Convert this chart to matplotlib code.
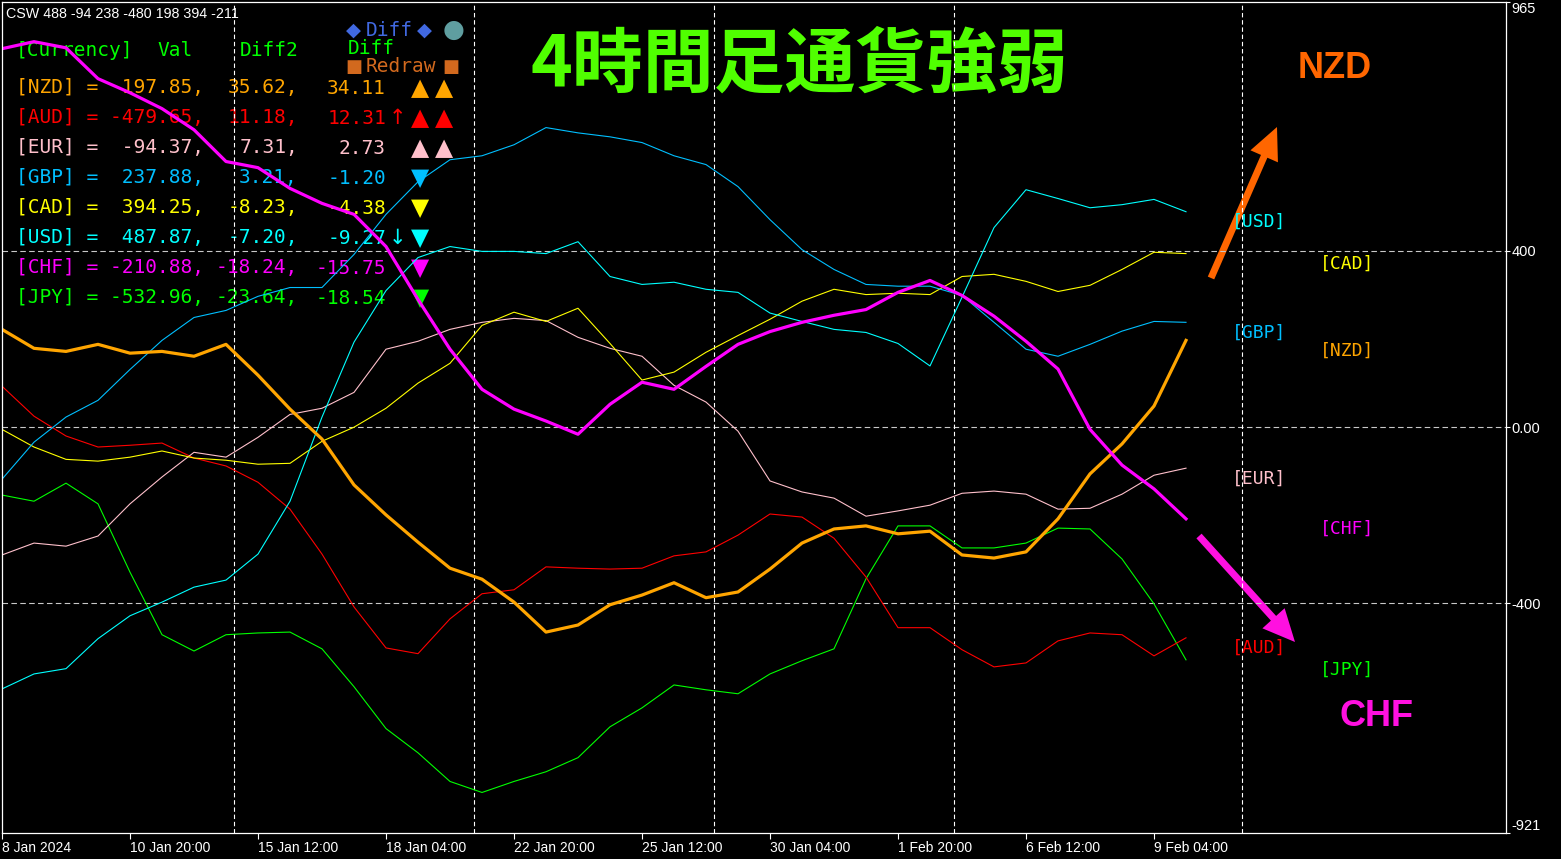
import matplotlib.pyplot as plt
import numpy as np

# 4H bar index of each sample (every 4th bar)
bars = np.arange(0, 149, 4)

nzd = [222, 179, 172, 188, 168, 172, 161, 188, 118, 41, -27, -131, -199, -261, -320, -345, -397, -465, -449, -403,
       -381, -353, -387, -374, -322, -263, -231, -224, -242, -236, -290, -297, -283, -208, -106, -38, 48, 197]
aud = [93, 25, -20, -45, -41, -36, -70, -88, -125, -186, -288, -408, -501, -514, -435, -378, -369, -317, -320, -322,
       -320, -292, -283, -245, -197, -204, -252, -340, -455, -455, -505, -544, -535, -485, -467, -471, -519, -478]
eur = [-290, -263, -270, -247, -174, -113, -57, -68, -23, 29, 43, 79, 177, 195, 222, 238, 247, 242, 204, 179,
       161, 95, 57, -9, -122, -147, -161, -202, -190, -177, -150, -145, -152, -186, -184, -152, -109, -93]
gbp = [-118, -34, 23, 61, 131, 197, 249, 265, 297, 317, 317, 392, 483, 557, 607, 616, 641, 680, 668, 659,
       646, 616, 596, 546, 471, 403, 358, 324, 320, 320, 299, 238, 177, 161, 188, 218, 240, 238]
cad = [-5, -45, -73, -77, -68, -54, -70, -75, -84, -82, -32, 0, 43, 100, 145, 231, 261, 240, 270, 190,
       107, 125, 170, 208, 245, 286, 313, 301, 304, 301, 342, 347, 331, 308, 322, 358, 397, 394]
usd = [-594, -560, -548, -480, -428, -397, -363, -347, -288, -168, 23, 193, 310, 385, 410, 399, 399, 394, 421, 342,
       324, 329, 313, 306, 259, 240, 222, 215, 190, 139, 295, 453, 539, 519, 498, 505, 517, 489]
chf = [859, 875, 861, 791, 759, 723, 675, 603, 589, 542, 508, 483, 410, 290, 177, 86, 41, 14, -16, 52,
       102, 86, 138, 188, 217, 238, 254, 267, 306, 333, 299, 252, 195, 132, -5, -86, -140, -208]
jpy = [-154, -168, -127, -174, -329, -471, -508, -471, -467, -465, -503, -589, -684, -739, -804, -829, -804, -782, -750, -680,
       -637, -585, -596, -605, -560, -530, -503, -344, -224, -224, -274, -274, -263, -229, -231, -299, -401, -528]

tick_bars = [0, 16, 32, 48, 64, 80, 96, 112, 128, 144]
tick_labels = ['8 Jan 2024', '10 Jan 20:00', '15 Jan 12:00', '18 Jan 04:00', '22 Jan 20:00',
               '25 Jan 12:00', '30 Jan 04:00', '1 Feb 20:00', '6 Feb 12:00', '9 Feb 04:00']
vgrid_bars = [29, 59, 89, 119, 155]
yticks = [-921, -400, 0, 400, 965]
ytick_labels = ['-921', '-400', '0.00', '400', '965']

# table in the top-left corner
currencies = ['NZD', 'AUD', 'EUR', 'GBP', 'CAD', 'USD', 'CHF', 'JPY']
vals = [197.85, -479.65, -94.37, 237.88, 394.25, 487.87, -210.88, -532.96]
diff2 = [35.62, 11.18, 7.31, 3.21, -8.23, -7.20, -18.24, -23.64]
diff = [34.11, 12.31, 2.73, -1.20, -4.38, -9.27, -15.75, -18.54]
marks = ['', '↑', '', '', '', '↓', '', '']
tris = ['▲▲', '▲▲', '▲▲', '▼', '▼', '▼', '▼', '▼']
colors = {'NZD': '#FFA500', 'AUD': '#FF0000', 'EUR': '#FFC0CB', 'GBP': '#00BFFF',
          'CAD': '#FFFF00', 'USD': '#00FFFF', 'CHF': '#FF00FF', 'JPY': '#00FF00'}
series = {'NZD': nzd, 'AUD': aud, 'EUR': eur, 'GBP': gbp, 'CAD': cad, 'USD': usd, 'CHF': chf, 'JPY': jpy}
label_bar = {'USD': 153.75, 'GBP': 153.75, 'EUR': 153.75, 'AUD': 153.75,
             'CAD': 164.75, 'NZD': 164.75, 'CHF': 164.75, 'JPY': 164.75}

mono = 'DejaVu Sans Mono'
fs_tab = 14

fig = plt.figure(figsize=(15.61, 8.59), dpi=100, facecolor='black')
ov = fig.add_axes([0, 0, 1, 1], zorder=0)
ov.set_xlim(0, 1561)
ov.set_ylim(859, 0)
ov.axis('off')
ov.patch.set_visible(False)

ax = fig.add_axes([2 / 1561, 1 - 833 / 859, 1504 / 1561, 831 / 859], zorder=1)
ax.set_facecolor('none')

# grid
for v in [400, 0, -400]:
    ax.axhline(v, color='#C8C8C8', lw=0.8, ls=(0, (5, 3)), zorder=0.5)
for b in vgrid_bars:
    ax.axvline(b, color='white', lw=0.8, ls=(0, (4, 2.5)), zorder=0.5)

# thin lines first, thick NZD / CHF on top
for name in ['JPY', 'AUD', 'EUR', 'CAD', 'GBP', 'USD']:
    ax.plot(bars, series[name], color=colors[name], lw=0.8)
for name in ['NZD', 'CHF']:
    ax.plot(bars, series[name], color=colors[name], lw=2.3, solid_joinstyle='round')

for name in currencies:
    ax.annotate(f'[{name}]', xy=(label_bar[name], series[name][-1]), xytext=(0, -1),
                textcoords='offset points', ha='left', va='top', color=colors[name],
                family=mono, fontsize=13, annotation_clip=False)

ax.set_xlim(0, 188)
ax.set_ylim(-921, 965)
for s in ax.spines.values():
    s.set_color('white')
    s.set_linewidth(0.9)

ax.set_xticks(tick_bars)
ax.set_xticklabels(tick_labels, ha='left', fontsize=10, family='Liberation Sans', color='white')
ax.tick_params(axis='x', colors='white', length=4, width=0.8, pad=2)
ax.yaxis.tick_right()
ax.set_yticks(yticks)
ax.set_yticklabels(ytick_labels, fontsize=10.5, family='Liberation Sans', color='white')
ax.tick_params(axis='y', colors='white', length=3, width=0.8, pad=1)
ylabs = ax.get_yticklabels()
ylabs[0].set_va('bottom')
ylabs[-1].set_va('top')

# overlay texts (pixel coordinates)
ov.text(6, 14, 'CSW 488 -94 238 -480 198 394 -211', color='white', fontsize=10.3,
        family='Liberation Sans', va='center')

green = '#00FF00'
ov.text(16, 50, '[Currency]', color=green, family=mono, fontsize=fs_tab, va='center')
ov.text(157, 50, 'Val', color=green, family=mono, fontsize=fs_tab, va='center')
ov.text(240, 50, 'Diff2', color=green, family=mono, fontsize=fs_tab, va='center')
ov.text(348, 49, 'Diff', color=green, family=mono, fontsize=fs_tab, va='center')

ov.text(353, 30, '◆', color='#4169E1', family='DejaVu Sans', fontsize=14, ha='center', va='center')
ov.text(366, 30, 'Diff', color='#4169E1', family=mono, fontsize=fs_tab, va='center')
ov.text(424, 30, '◆', color='#4169E1', family='DejaVu Sans', fontsize=14, ha='center', va='center')
ov.text(454, 30, '●', color='#5F9EA0', family='DejaVu Sans', fontsize=18, ha='center', va='center')
ov.text(354, 67, '■', color='#D2691E', family='DejaVu Sans', fontsize=13, ha='center', va='center')
ov.text(366, 67, 'Redraw', color='#D2691E', family=mono, fontsize=fs_tab, va='center')
ov.text(451, 67, '■', color='#D2691E', family='DejaVu Sans', fontsize=13, ha='center', va='center')

for i, c in enumerate(currencies):
    y = 88 + 30 * i
    col = colors[c]
    ov.text(16, y, f'[{c}] = {vals[i]:7.2f},', color=col, family=mono, fontsize=fs_tab, va='center')
    ov.text(298, y, f'{diff2[i]:.2f},', color=col, family=mono, fontsize=fs_tab, va='center', ha='right')
    ov.text(386, y, f'{diff[i]:.2f}', color=col, family=mono, fontsize=fs_tab, va='center', ha='right')
    if marks[i]:
        ov.text(397, y, marks[i], color=col, family='DejaVu Sans', fontsize=15, va='center', ha='center')
    for k, t in enumerate(tris[i]):
        ov.text(420 + 24 * k, y, t, color=col, family='DejaVu Sans', fontsize=17, va='center', ha='center')

ov.text(800, 66, '4時間足通貨強弱', color='#50FF00', family='Noto Sans CJK JP', fontweight='bold',
        fontsize=51, ha='center', va='center')
ov.text(1335, 68, 'NZD', color='#FF6600', family='Liberation Sans', fontweight='bold',
        fontsize=26, ha='center', va='center')
ov.text(1377, 717, 'CHF', color='#FF10E0', family='Liberation Sans', fontweight='bold',
        fontsize=26, ha='center', va='center')

ov.arrow(1211, 278, 66, -151, width=7, head_width=30, head_length=32,
         length_includes_head=True, color='#FF6600', lw=0)
ov.arrow(1199, 536, 96, 106, width=7, head_width=30, head_length=32,
         length_includes_head=True, color='#FF10E0', lw=0)

fig.savefig('out.png', dpi=100, facecolor='black')
